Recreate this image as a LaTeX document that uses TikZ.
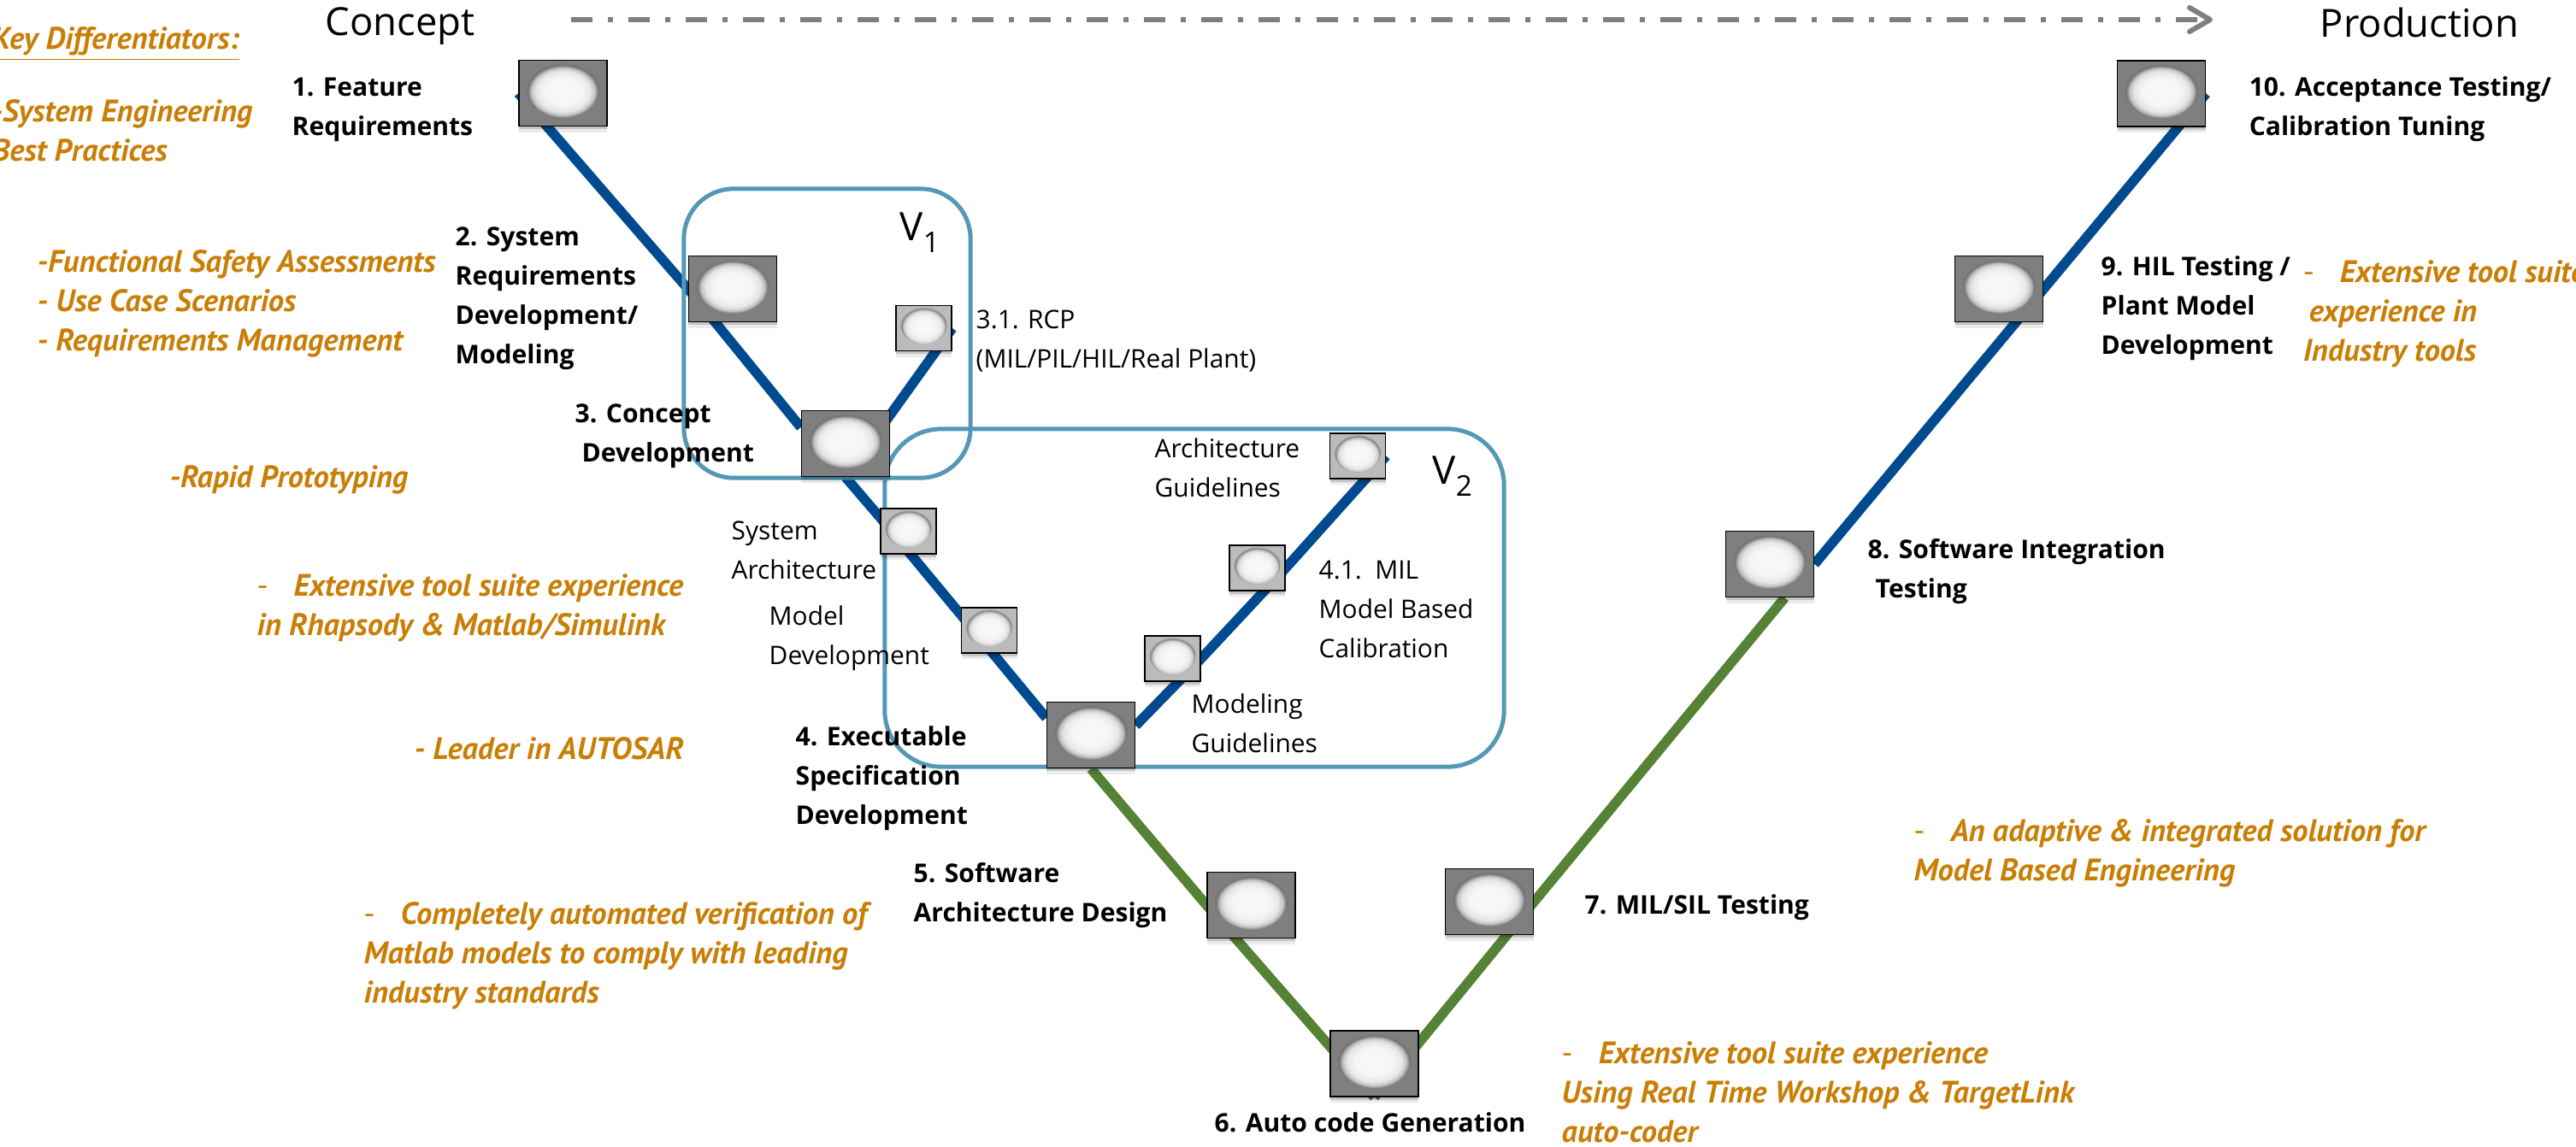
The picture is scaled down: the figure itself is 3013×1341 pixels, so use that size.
\documentclass[tikz,border=0pt]{standalone}
\usepackage{fontspec}
\setmainfont{Open Sans}
\newfontfamily\ofont{PT Sans}
\usetikzlibrary{arrows.meta,shadows,backgrounds}
\definecolor{vblue}{HTML}{004B8F}
\definecolor{vgreen}{HTML}{558235}
\definecolor{vrect}{HTML}{5498B6}
\definecolor{vorange}{HTML}{C97E05}
\definecolor{vgrayD}{HTML}{7F7F7F}
\definecolor{vgrayL}{HTML}{BBBBBB}
\pgfdeclareradialshading{ballD}{\pgfpoint{0bp}{2bp}}{color(0bp)=(white!98!black);color(11bp)=(white!96!black);color(15.5bp)=(white!90!black);color(18bp)=(white!76!black);color(20bp)=(vgrayD!92!black);color(22bp)=(vgrayD);color(50bp)=(vgrayD)}
\pgfdeclareradialshading{ballL}{\pgfpoint{0bp}{2bp}}{color(0bp)=(white!98!black);color(11bp)=(white!96!black);color(15.5bp)=(white!91!black);color(18bp)=(white!80!black);color(20bp)=(vgrayL!70!black);color(22bp)=(vgrayL);color(50bp)=(vgrayL)}
\tikzset{
  vbox/.style={rectangle,draw=black,line width=.016cm,inner sep=0pt,
    drop shadow={shadow xshift=0cm,shadow yshift=-.07cm,opacity=.08,fill=black},
    drop shadow={shadow xshift=0cm,shadow yshift=-.035cm,opacity=.16,fill=black}},
  bigbox/.style={vbox,fill=vgrayD,minimum width=1.03cm,minimum height=.77cm,
    path picture={\shade[shading=ballD] ([yshift=.04cm]path picture bounding box.center) ellipse [x radius=.43cm,y radius=.33cm];}},
  smallbox/.style={vbox,fill=vgrayL,minimum width=.65cm,minimum height=.53cm,
    path picture={\shade[shading=ballL] ([yshift=.04cm]path picture bounding box.center) ellipse [x radius=.27cm,y radius=.23cm];}},
  bluelink/.style={draw=vblue,line width=.115cm},
  greenlink/.style={draw=vgreen,line width=.115cm},
  vframe/.style={draw=vrect,line width=.05cm},
  stage/.style={anchor=north west,inner sep=0pt,align=left,yshift=.13cm,xshift=-.01cm,font=\fontsize{8.55}{13.1}\selectfont\bfseries},
  substage/.style={anchor=north west,inner sep=0pt,align=left,yshift=.13cm,font=\fontsize{8.5}{13.1}\selectfont},
  note/.style={anchor=north west,inner sep=0pt,align=left,yshift=.125cm,text=vorange,font=\ofont\fontsize{10.35}{13.1}\selectfont\bfseries\itshape},
  heading/.style={anchor=north west,inner sep=0pt,yshift=.16cm,font=\fontsize{12.9}{15}\selectfont},
  vlabel/.style={anchor=north west,inner sep=0pt,font=\fontsize{13}{15}\selectfont},
}
\newcommand{\dashgap}{\makebox[.43cm][l]{\mdseries\upshape -}}
\newcommand{\vsub}[1]{\raisebox{-.14cm}{\fontsize{9.5}{10}\selectfont #1}}
\begin{document}
\begin{tikzpicture}[x=.01cm,y=-.01cm]
\useasboundingbox (0,0) rectangle (3013,1341);
% boxes
\node[bigbox] (b1) at (658.5,109) {};
\node[bigbox] (b2) at (857,338) {};
\node[bigbox] (b3) at (989,519) {};
\node[smallbox] (b31) at (1080.5,384) {};
\node[smallbox] (bsys) at (1062.5,621.5) {};
\node[smallbox] (bmod) at (1157,737.5) {};
\node[bigbox] (b4) at (1276,860) {};
\node[smallbox] (bgui) at (1371.5,770.5) {};
\node[smallbox] (b41) at (1470.5,664.5) {};
\node[smallbox] (barc) at (1588,533.5) {};
\node[bigbox] (b5) at (1463.5,1059) {};
\node[bigbox] (b6) at (1607.5,1244.5) {};
\node[bigbox] (b7) at (1742,1055) {};
\node[bigbox] (b8) at (2070,660) {};
\node[bigbox] (b9) at (2338,338) {};
\node[bigbox] (b10) at (2528,109.5) {};
% links and V frames lie behind the boxes
\begin{scope}[on background layer]
\draw[bluelink] (b1.west) -- (b2.west);
\draw[bluelink] (b2.west) -- (b3.160);
\draw[bluelink] (b3.south) -- (bsys.154);
\draw[bluelink] (bsys.154) -- (bmod.151);
\draw[bluelink] (bmod.151) -- (b4.159);
\draw[bluelink] (b3.south) -- (b31.east);
\draw[bluelink] (b4.12) -- (bgui.east);
\draw[bluelink] (bgui.east) -- (b41.east);
\draw[bluelink] (b41.east) -- (barc.east);
\draw[greenlink] (b4.south) -- (b5.west);
\draw[greenlink] (b5.west) -- (b6.south);
\draw[greenlink] (b6.south) -- (b7.east);
\draw[greenlink] (b7.east) -- (b8.294);
\draw[bluelink] (b8.east) -- (b9.east);
\draw[bluelink] (b9.east) -- (b10.east);
\node[vframe,rectangle,rounded corners=.58cm,minimum width=3.35cm,minimum height=3.38cm,inner sep=0pt] (v1frame) at (967.5,390) {};
\node[vframe,rectangle,rounded corners=.66cm,minimum width=7.24cm,minimum height=3.95cm,inner sep=0pt] (v2frame) at (1397,699.5) {};
\end{scope}
% headings and arrow
\node[heading] (concept) at (380,24) {Concept};
\node[heading] (production) at (2713,24) {Production};
\coordinate (arrowfrom) at (668,23);
\coordinate (arrowto) at (2588,23);
\draw[draw=vgrayD,line width=.06cm,dash pattern=on .25cm off .18cm on .06cm off .18cm,
  -{Straight Barb[length=.24cm,width=.28cm,round,line width=.06cm]}] (arrowfrom) -- (arrowto);
% V labels
\node[vlabel] (v1) at (1052,248) {V\vsub{1}};
\node[vlabel] (v2) at (1675,533) {V\vsub{2}};
% stage labels
\node[stage] (t1) at (342,103) {1. Feature\\Requirements};
\node[stage] (t2) at (533,278) {2. System\\Requirements\\Development/\\Modeling};
\node[stage] (t3) at (673,485) {3. Concept\\\hspace{.08cm}Development};
\node[stage] (t4) at (931,862) {4. Executable\\Specification\\Development};
\node[stage] (t5) at (1069,1022) {5. Software\\Architecture Design};
\node[stage] (t6) at (1421,1314) {6. Auto code Generation};
\node[stage] (t7) at (1854,1059) {7. MIL/SIL Testing};
\node[stage] (t8) at (2185,643) {8. Software Integration\\\hspace{.09cm}Testing};
\node[stage] (t9) at (2458,312) {9. HIL Testing /\\Plant Model\\Development};
\node[stage] (t10) at (2631,102) {10. Acceptance Testing/\\Calibration Tuning};
% sub labels
\node[substage] (s31) at (1141,375) {3.1. RCP\\(MIL/PIL/HIL/Real Plant)};
\node[substage] (ssys) at (855,622) {System\\Architecture};
\node[substage] (smod) at (899,721) {Model\\Development};
\node[substage] (sarc) at (1350,525) {Architecture\\Guidelines};
\node[substage] (s41) at (1542,668) {4.1.\ \ MIL\\Model Based\\Calibration};
\node[substage] (sgui) at (1393,824) {Modeling\\Guidelines};
% orange notes
\node[note] (n0) at (-10,43) {\underline{Key Differentiators:}};
\node[note] (n1) at (-10,128) {-System Engineering\\Best Practices};
\node[note] (n2) at (43,304) {-Functional Safety Assessments\\- Use Case Scenarios\\- Requirements Management};
\node[note] (n3) at (198,556) {-Rapid Prototyping};
\node[note] (n4) at (300,683) {\dashgap Extensive tool suite experience\\in Rhapsody \& Matlab/Simulink};
\node[note] (n5) at (484,874) {- Leader in AUTOSAR};
\node[note] (n6) at (425,1067) {\dashgap Completely automated verification of\\Matlab models to comply with leading\\industry standards};
\node[note] (n7) at (1826,1230) {\dashgap Extensive tool suite experience\\Using Real Time Workshop \& TargetLink\\auto-coder};
\node[note] (n8) at (2238,970) {\dashgap An adaptive \& integrated solution for\\Model Based Engineering};
\node[note] (n9) at (2693,316) {\dashgap Extensive tool suite\\\hspace{.07cm}experience in\\Industry tools};
\end{tikzpicture}
\end{document}
